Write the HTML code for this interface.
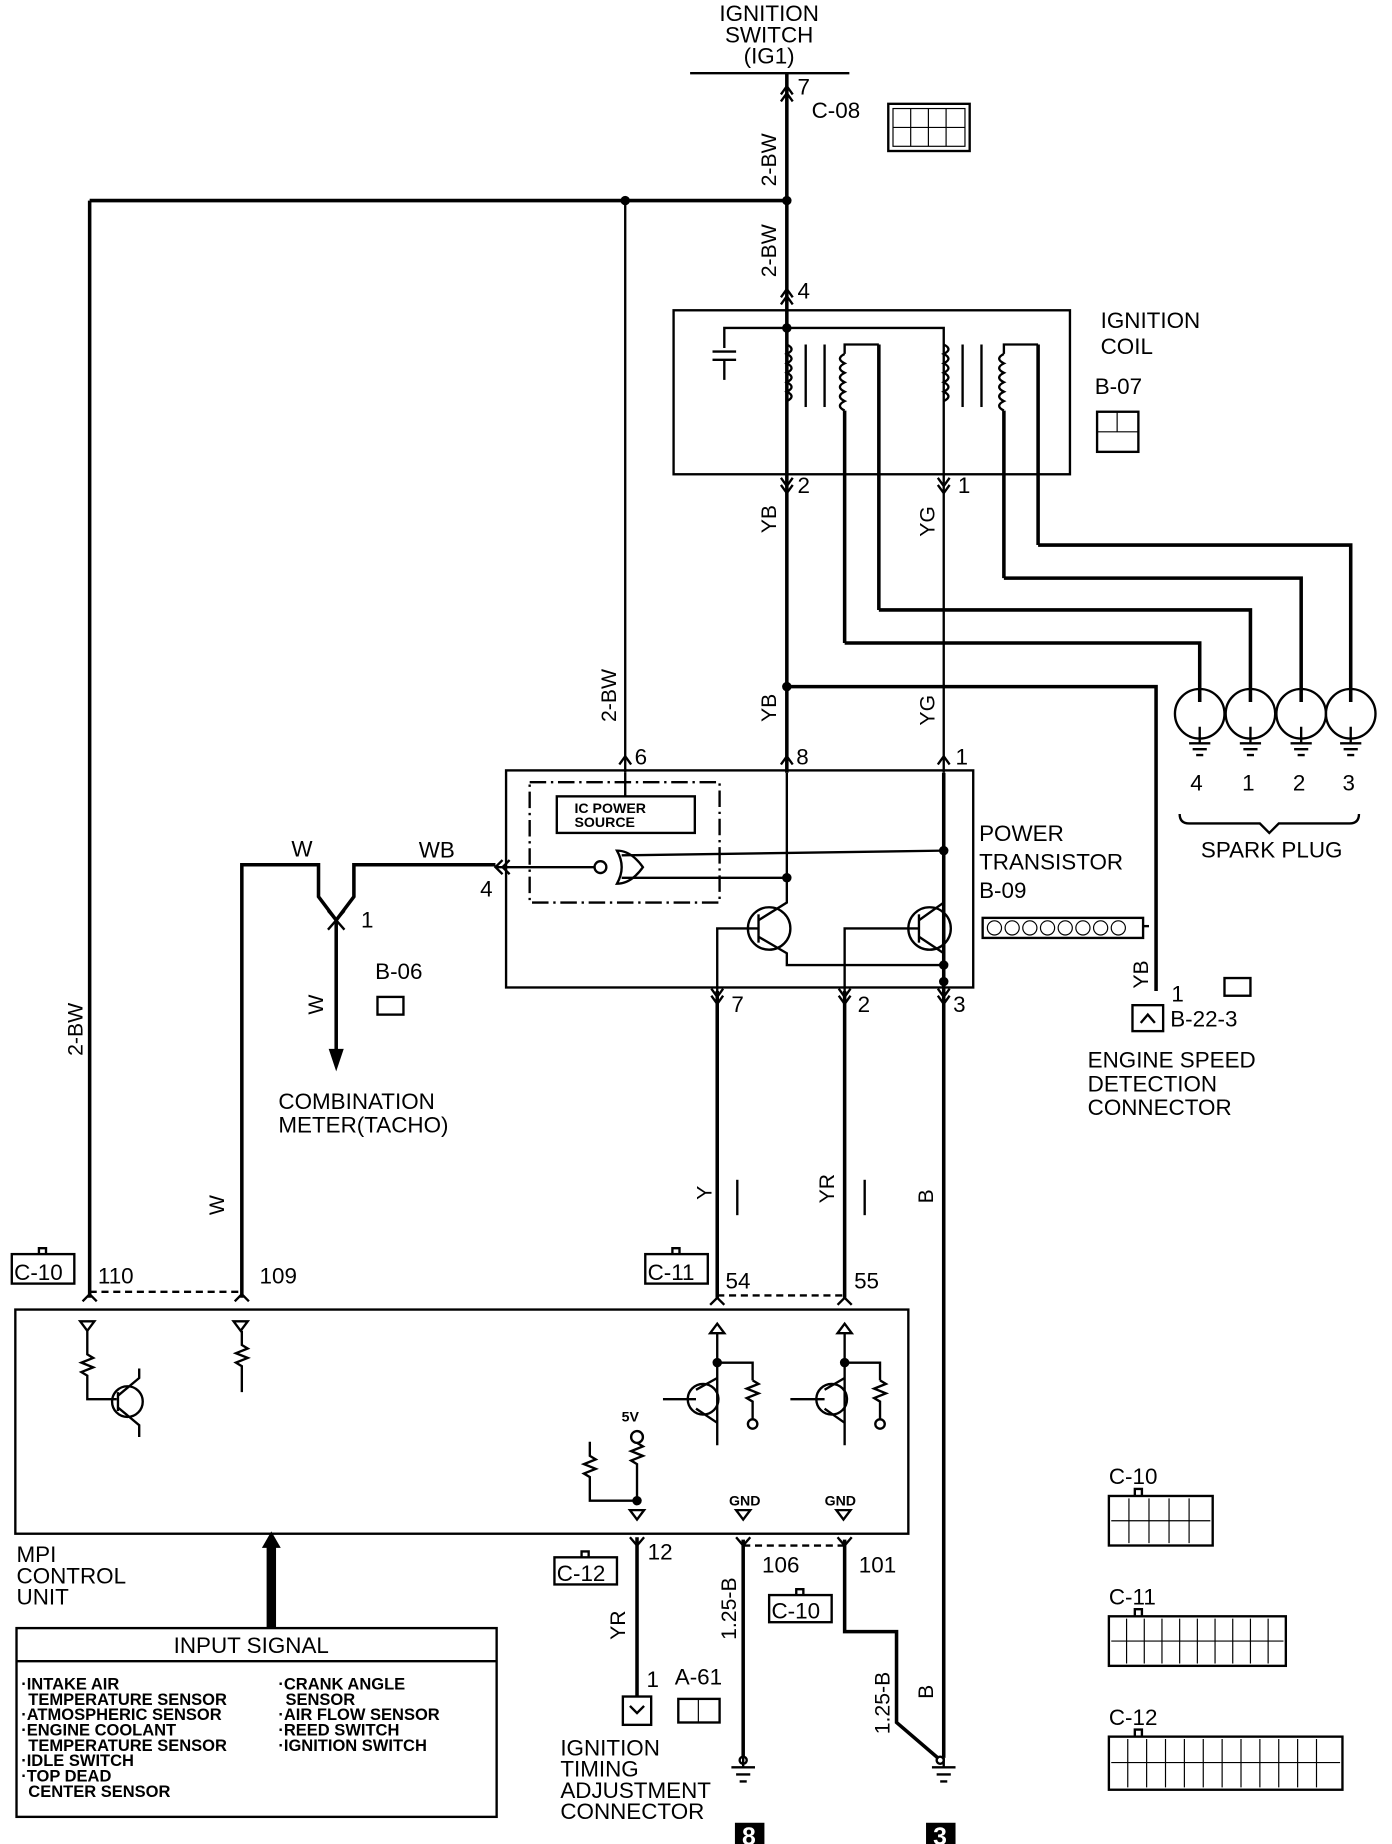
<!DOCTYPE html>
<html><head><meta charset="utf-8"><style>
html,body{margin:0;padding:0;background:#fff;}
svg{display:block}
text{font-family:"Liberation Sans",sans-serif;fill:#000;}
</style></head><body>
<svg width="1392" height="1844" viewBox="0 0 1180 1563" preserveAspectRatio="none" xmlns="http://www.w3.org/2000/svg">
<g fill="none" stroke="#000" stroke-width="2">
<line x1="585" y1="62" x2="720" y2="62"/>
<line x1="667" y1="62" x2="667" y2="655" stroke-width="3"/>
<polyline points="662,80 667,73 672,80"/><polyline points="662,86 667,79 672,86"/>
<rect x="753" y="88" width="69" height="40"/>
<rect x="757" y="92" width="61" height="32" stroke-width="1"/>
<line x1="757" y1="108" x2="818" y2="108" stroke-width="1"/>
<line x1="772" y1="92" x2="772" y2="124" stroke-width="1"/><line x1="787" y1="92" x2="787" y2="124" stroke-width="1"/><line x1="802" y1="92" x2="802" y2="124" stroke-width="1"/>
<line x1="76" y1="170" x2="667" y2="170" stroke-width="3"/>
<line x1="76" y1="170" x2="76" y2="1100" stroke-width="3"/>
<line x1="530" y1="170" x2="530" y2="655"/>
<polyline points="662,252 667,245 672,252"/><polyline points="662,258 667,251 672,258"/>
<rect x="571" y="263" width="336" height="139"/>
<polyline points="614,295 614,278 800,278 800,292"/>
<line x1="604" y1="298" x2="624" y2="298"/><line x1="604" y1="305" x2="624" y2="305"/>
<line x1="614" y1="305" x2="614" y2="322"/>
<path d="M667,292 q8,4 0,8 q8,4 0,8 q8,4 0,8 q8,4 0,8 q8,4 0,8 q8,4 0,8"/>
<path d="M800,292 q8,4 0,8 q8,4 0,8 q8,4 0,8 q8,4 0,8 q8,4 0,8 q8,4 0,8"/>
<path d="M716,300 q-8,4 0,8 q-8,4 0,8 q-8,4 0,8 q-8,4 0,8 q-8,4 0,8 q-8,4 0,8"/>
<path d="M851,300 q-8,4 0,8 q-8,4 0,8 q-8,4 0,8 q-8,4 0,8 q-8,4 0,8 q-8,4 0,8"/>
<line x1="683" y1="292" x2="683" y2="345"/><line x1="699" y1="292" x2="699" y2="345"/>
<line x1="816" y1="292" x2="816" y2="345"/><line x1="832" y1="292" x2="832" y2="345"/>
<polyline points="716,300 716,292 745,292"/><line x1="716" y1="348" x2="716" y2="545" stroke-width="3"/>
<line x1="745" y1="292" x2="745" y2="517" stroke-width="3"/>
<polyline points="851,300 851,292 880,292"/><line x1="880" y1="292" x2="880" y2="462" stroke-width="3"/>
<line x1="851" y1="348" x2="851" y2="490" stroke-width="3"/>
<line x1="800" y1="292" x2="800" y2="655" stroke-width="2"/>
<polyline points="880,462 1145,462 1145,595" stroke-width="3"/>
<polyline points="851,490 1103,490 1103,595" stroke-width="3"/>
<polyline points="745,517 1060,517 1060,595" stroke-width="3"/>
<polyline points="716,545 1017,545 1017,595" stroke-width="3"/>
<polyline points="662,405 667,412 672,405"/><polyline points="662,411 667,418 672,411"/>
<polyline points="795,405 800,412 805,405"/><polyline points="795,411 800,418 805,411"/>
<g>
<circle cx="1017" cy="605" r="21"/><circle cx="1060" cy="605" r="21"/><circle cx="1103" cy="605" r="21"/><circle cx="1145" cy="605" r="21"/>
<path d="M1017,616v14M1008,630h18M1011,635h12M1014,640h6"/>
<path d="M1060,616v14M1051,630h18M1054,635h12M1057,640h6"/>
<path d="M1103,616v14M1094,630h18M1097,635h12M1100,640h6"/>
<path d="M1145,616v14M1136,630h18M1139,635h12M1142,640h6"/>
<path d="M1000,690 q0,8 8,8 h60 l8,8 l8,-8 h60 q8,0 8,-8"/>
</g>
<polyline points="667,582 980,582 980,840" stroke-width="3"/>
<polyline points="525,648 530,641 535,648"/><polyline points="662,648 667,641 672,648"/><polyline points="795,648 800,641 805,648"/>
<rect x="429" y="653" width="396" height="184"/>
<rect x="449" y="663" width="161" height="102" stroke-dasharray="14,4,2,4"/>
<rect x="472" y="675" width="117" height="31"/>
<line x1="530" y1="655" x2="530" y2="675"/>
<path d="M523,721 q12,0 22,14 q-10,14 -22,14 q8,-14 0,-28z"/>
<circle cx="509" cy="735" r="5"/>
<line x1="504" y1="735" x2="420" y2="735"/>
<polyline points="426,729 420,735 426,741"/><polyline points="432,729 426,735 432,741"/>
<line x1="527" y1="725" x2="800" y2="721"/><line x1="527" y1="744" x2="667" y2="744"/>
<circle cx="652" cy="787" r="18"/><circle cx="788" cy="787" r="18"/>
<line x1="643" y1="775" x2="643" y2="799"/><line x1="779" y1="775" x2="779" y2="799"/>
<polyline points="643,787 608,787 608,840"/><polyline points="779,787 716,787 716,840"/>
<polyline points="643,780 667,765 667,655"/><polyline points="643,794 667,808 667,818 800,818"/>
<polyline points="779,780 800,765"/><polyline points="779,794 800,808"/>
<line x1="800" y1="655" x2="800" y2="1490" stroke-width="3"/>
<line x1="608" y1="840" x2="608" y2="1100" stroke-width="3"/><line x1="716" y1="840" x2="716" y2="1100" stroke-width="3"/>
<polyline points="603,838 608,845 613,838"/><polyline points="603,844 608,851 613,844"/>
<polyline points="711,838 716,845 721,838"/><polyline points="711,844 716,851 721,844"/>
<polyline points="795,838 800,845 805,838"/><polyline points="795,844 800,851 805,844"/>
<rect x="833" y="778" width="136" height="17"/><line x1="969" y1="785" x2="974" y2="785"/>
<g stroke-width="1"><circle cx="843" cy="786.500" r="6"/><circle cx="858" cy="786.500" r="6"/><circle cx="873" cy="786.500" r="6"/><circle cx="888" cy="786.500" r="6"/><circle cx="903" cy="786.500" r="6"/><circle cx="918" cy="786.500" r="6"/><circle cx="933" cy="786.500" r="6"/><circle cx="948" cy="786.500" r="6"/></g>
<polyline points="420,733 300,733 300,760 285,780" stroke-width="3"/>
<polyline points="205,1100 205,733 270,733 270,760 285,780" stroke-width="3"/>
<line x1="278" y1="772" x2="292" y2="788"/><line x1="292" y1="772" x2="278" y2="788"/>
<line x1="285" y1="780" x2="285" y2="895" stroke-width="3"/>
<path d="M280,890 L285,905 L290,890z" fill="#000"/>
<rect x="320" y="845" width="22" height="15"/><rect x="1038" y="829" width="22" height="15"/>
<line x1="76" y1="1095" x2="205" y2="1095" stroke-dasharray="6,4"/>
<line x1="608" y1="1098" x2="716" y2="1098" stroke-dasharray="6,4"/>
<rect x="960" y="852" width="26" height="22"/>
<polyline points="967,867 973,860 979,867"/>
<rect x="10" y="1063" width="53" height="25"/><rect x="547" y="1063" width="53" height="25"/>
<rect x="470" y="1320" width="53" height="23"/><rect x="652" y="1352" width="53" height="23"/>
<path d="M33,1063v-5h6v5 M570,1063v-5h6v5 M493,1320v-5h6v5 M675,1352v-5h6v5"/>
<rect x="13" y="1110" width="757" height="190"/>
<polyline points="70,1103 76,1097 82,1103"/><polyline points="199,1103 205,1097 211,1103"/>
<polyline points="602,1106 608,1100 614,1106"/><polyline points="710,1106 716,1100 722,1106"/>
<path d="M68,1120h12l-6,8z M198,1120h12l-6,8z"/>
<path d="M74,1128v20 l5,3 -10,4 10,4 -10,4 5,3 v20 h25"/>
<path d="M205,1128v12 l5,3 -10,4 10,4 -10,4 5,3 v22"/>
<circle cx="108" cy="1188" r="13"/><line x1="100" y1="1180" x2="100" y2="1196"/>
<polyline points="100,1183 118,1168 118,1160"/><polyline points="100,1193 118,1208 118,1218"/>
<path d="M602,1130h12l-6,-8z M710,1130h12l-6,-8z"/>
<polyline points="608,1130 608,1225"/><polyline points="716,1130 716,1225"/>
<polyline points="608,1155 638,1155 638,1170"/><path d="M638,1170 l5,3 -10,4 10,4 -10,4 5,3 v16"/>
<polyline points="716,1155 746,1155 746,1170"/><path d="M746,1170 l5,3 -10,4 10,4 -10,4 5,3 v16"/>
<circle cx="596" cy="1186" r="13"/><circle cx="705" cy="1186" r="13"/>
<polyline points="562,1186 590,1186"/><polyline points="670,1186 699,1186"/>
<polyline points="590,1178 608,1168"/><polyline points="590,1194 608,1206"/>
<polyline points="699,1178 716,1168"/><polyline points="699,1194 716,1206"/>
<circle cx="638" cy="1207" r="4"/><circle cx="746" cy="1207" r="4"/>
<circle cx="540" cy="1218" r="5"/>
<path d="M540,1223 l5,3 -10,4 10,4 -10,4 5,3 v30 M500,1222 v12 l5,3 -10,4 10,4 -10,4 5,3 v20 h40"/>
<path d="M534,1280h12l-6,8z M624,1280h12l-6,8z M709,1280h12l-6,8z"/>
<polyline points="534,1303 540,1310 546,1303"/>
<polyline points="624,1303 630,1310 636,1303"/><polyline points="710,1303 716,1310 722,1303"/>
<line x1="540" y1="1303" x2="540" y2="1438" stroke-width="3"/>
<rect x="528" y="1438" width="24" height="24"/><polyline points="534,1446 540,1452 546,1446"/>
<line x1="630" y1="1310" x2="716" y2="1310" stroke-dasharray="6,4"/>
<line x1="630" y1="1305" x2="630" y2="1490" stroke-width="3"/>
<polyline points="716,1305 716,1383 760,1383 760,1460 795,1490" stroke-width="3"/>
<path d="M630,1490v8 M620,1498h20 M624,1504h12 M627,1510h6"/>
<path d="M800,1490v8 M790,1498h20 M794,1504h12 M797,1510h6"/>
<circle cx="630" cy="1492" r="3"/><circle cx="797" cy="1492" r="3"/>
<rect x="14" y="1380" width="407" height="160"/><line x1="14" y1="1408" x2="421" y2="1408"/>
<rect x="575" y="1440" width="35" height="20"/>
<line x1="592" y1="1440" x2="592" y2="1460" stroke-width="1"/>
<rect x="940" y="1268" width="88" height="42"/><line x1="942" y1="1289" x2="1026" y2="1289" stroke-width="1"/>
<path d="M957,1270v38M974,1270v38M991,1270v38M1008,1270v38" stroke-width="1"/>
<rect x="940" y="1370" width="150" height="42"/><line x1="942" y1="1391" x2="1088" y2="1391" stroke-width="1"/>
<path d="M955,1372v38M970,1372v38M985,1372v38M1000,1372v38M1015,1372v38M1030,1372v38M1045,1372v38M1060,1372v38M1075,1372v38" stroke-width="1"/>
<rect x="940" y="1472" width="198" height="45"/><line x1="942" y1="1494" x2="1136" y2="1494" stroke-width="1"/>
<path d="M956,1474v41M972,1474v41M988,1474v41M1004,1474v41M1020,1474v41M1036,1474v41M1052,1474v41M1068,1474v41M1084,1474v41M1100,1474v41M1116,1474v41" stroke-width="1"/>
<path d="M962,1268v-6h6v6 M962,1370v-6h6v6 M962,1472v-6h6v6"/>
<rect x="930" y="349" width="35" height="34"/>
<line x1="930" y1="366" x2="965" y2="366" stroke-width="1"/><line x1="947" y1="349" x2="947" y2="366" stroke-width="1"/>
</g>
<g fill="#000">
<circle cx="530" cy="170" r="4"/><circle cx="667" cy="170" r="4"/><circle cx="667" cy="278" r="4"/>
<circle cx="667" cy="582" r="4"/><circle cx="800" cy="721" r="4"/><circle cx="667" cy="744" r="4"/>
<circle cx="800" cy="818" r="4"/><circle cx="800" cy="832" r="4"/><circle cx="608" cy="1155" r="4"/><circle cx="716" cy="1155" r="4"/><circle cx="540" cy="1272" r="4"/>
<rect x="226" y="1310" width="8" height="70"/><path d="M222,1312 L230,1298 L238,1312z"/>
<rect x="623" y="1545" width="25" height="23"/><rect x="785" y="1545" width="25" height="23"/>
</g>
<g font-size="19">
<text x="652" y="18" text-anchor="middle">IGNITION</text>
<text x="652" y="36" text-anchor="middle">SWITCH</text>
<text x="652" y="54" text-anchor="middle">(IG1)</text>
<text x="676" y="80">7</text><text x="688" y="100">C-08</text>
<text x="676" y="253">4</text>
<text x="933" y="278">IGNITION</text><text x="933" y="300">COIL</text><text x="928" y="334">B-07</text>
<text x="676" y="418">2</text><text x="812" y="418">1</text>
<text x="1009" y="670">4</text><text x="1053" y="670">1</text><text x="1096" y="670">2</text><text x="1138" y="670">3</text>
<text x="1078" y="727" text-anchor="middle">SPARK PLUG</text>
<text x="538" y="648">6</text><text x="675" y="648">8</text><text x="810" y="648">1</text>
<text x="830" y="713">POWER</text><text x="830" y="737">TRANSISTOR</text><text x="830" y="761">B-09</text>
<text x="407" y="760">4</text><text x="247" y="726">W</text><text x="355" y="727">WB</text><text x="306" y="786">1</text>
<text x="318" y="830">B-06</text>
<text x="236" y="940">COMBINATION</text><text x="236" y="960">METER(TACHO)</text>
<text x="620" y="858">7</text><text x="727" y="858">2</text><text x="808" y="858">3</text>
<text x="993" y="849">1</text><text x="992" y="870">B-22-3</text>
<text x="922" y="905">ENGINE SPEED</text><text x="922" y="925">DETECTION</text><text x="922" y="945">CONNECTOR</text>
<text x="12" y="1085">C-10</text><text x="83" y="1088">110</text><text x="220" y="1088">109</text>
<text x="549" y="1085">C-11</text><text x="615" y="1092">54</text><text x="724" y="1092">55</text>
<text x="472" y="1340">C-12</text><text x="549" y="1322">12</text><text x="646" y="1333">106</text><text x="728" y="1333">101</text>
<text x="654" y="1372">C-10</text>
<text x="14" y="1324">MPI</text><text x="14" y="1342">CONTROL</text><text x="14" y="1360">UNIT</text>
<text x="548" y="1430">1</text><text x="572" y="1428">A-61</text>
<text x="475" y="1488">IGNITION</text><text x="475" y="1506">TIMING</text><text x="475" y="1524">ADJUSTMENT</text><text x="475" y="1542">CONNECTOR</text>
<text x="213" y="1401" text-anchor="middle">INPUT SIGNAL</text>
<text x="940" y="1258">C-10</text><text x="940" y="1360">C-11</text><text x="940" y="1462">C-12</text>
</g>
<g font-size="12" font-weight="bold">
<text x="487" y="689">IC POWER</text><text x="487" y="701">SOURCE</text>
<text x="527" y="1205">5V</text><text x="618" y="1276">GND</text><text x="699" y="1276">GND</text>
</g>
<g font-size="14" font-weight="bold">
<text x="18" y="1432">·INTAKE AIR</text><text x="24" y="1445">TEMPERATURE SENSOR</text>
<text x="18" y="1458">·ATMOSPHERIC SENSOR</text><text x="18" y="1471">·ENGINE COOLANT</text>
<text x="24" y="1484">TEMPERATURE SENSOR</text><text x="18" y="1497">·IDLE SWITCH</text>
<text x="18" y="1510">·TOP DEAD</text><text x="24" y="1523">CENTER SENSOR</text>
<text x="236" y="1432">·CRANK ANGLE</text><text x="242" y="1445">SENSOR</text>
<text x="236" y="1458">·AIR FLOW SENSOR</text><text x="236" y="1471">·REED SWITCH</text><text x="236" y="1484">·IGNITION SWITCH</text>
</g>
<text x="629" y="1564" font-size="21" font-weight="bold" style="fill:#fff">8</text><text x="791" y="1564" font-size="21" font-weight="bold" style="fill:#fff">3</text>
<g font-size="18">
<text transform="translate(658,158) rotate(-90)">2-BW</text>
<text transform="translate(658,235) rotate(-90)">2-BW</text>
<text transform="translate(522,612) rotate(-90)">2-BW</text>
<text transform="translate(70,895) rotate(-90)">2-BW</text>
<text transform="translate(658,452) rotate(-90)">YB</text><text transform="translate(792,455) rotate(-90)">YG</text>
<text transform="translate(658,612) rotate(-90)">YB</text><text transform="translate(792,615) rotate(-90)">YG</text>
<text transform="translate(274,860) rotate(-90)">W</text><text transform="translate(190,1030) rotate(-90)">W</text>
<text transform="translate(603,1017) rotate(-90)">Y</text><text transform="translate(707,1020) rotate(-90)">YR</text>
<text transform="translate(791,1020) rotate(-90)">B</text><text transform="translate(973,838) rotate(-90)">YB</text>
<text transform="translate(530,1390) rotate(-90)">YR</text>
<text transform="translate(624,1390) rotate(-90)">1.25-B</text>
<text transform="translate(754,1470) rotate(-90)">1.25-B</text>
<text transform="translate(791,1440) rotate(-90)">B</text>
</g>
<g stroke="#000" stroke-width="2"><line x1="625" y1="1030" x2="625" y2="1000"/><line x1="733" y1="1030" x2="733" y2="1000"/></g>
</svg>
</body></html>
